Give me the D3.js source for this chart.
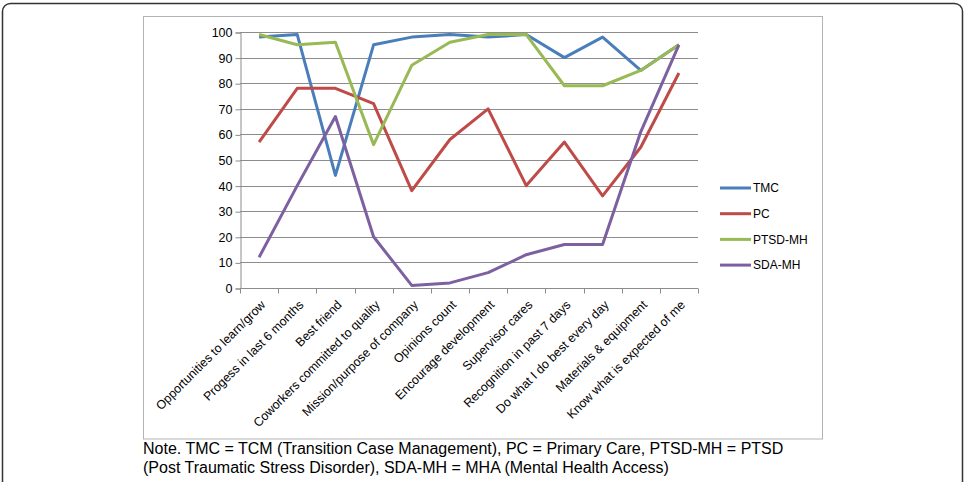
<!DOCTYPE html>
<html>
<head>
<meta charset="utf-8">
<script src="https://cdn.jsdelivr.net/npm/d3@7"></script>
<style>
  html, body { margin: 0; padding: 0; background: #fff; }
  svg { display: block; }
  .tick text { font-family: "Liberation Sans", Arial, sans-serif; }
</style>
</head>
<body>
<div class="svgContainer"></div>
<script>
const categories = [
  'Opportunities to learn/grow',
  'Progess in last 6 months',
  'Best friend',
  'Coworkers committed to quality',
  'Mission/purpose of company',
  'Opinions count',
  'Encourage development',
  'Supervisor cares',
  'Recognition in past 7 days',
  'Do what I do best every day',
  'Materials & equipment',
  'Know what is expected of me'
];
const seriesNames = ['TMC', 'PC', 'PTSD-MH', 'SDA-MH'];
const tmc = [98, 99, 44, 95, 98, 99, 98, 99, 90, 98, 85, 95];
const pc = [57, 78, 78, 72, 38, 58, 70, 40, 57, 36, 55, 84];
const ptsd = [99, 95, 96, 56, 87, 96, 99, 99, 79, 79, 85, 95];
const sda = [12, 40, 67, 20, 1, 2, 6, 13, 17, 17, 61, 95];
const yTicks = [0, 10, 20, 30, 40, 50, 60, 70, 80, 90, 100];
const noteLines = [
  'Note. TMC = TCM (Transition Case Management), PC = Primary Care, PTSD-MH = PTSD',
  '(Post Traumatic Stress Disorder), SDA-MH = MHA (Mental Health Access)'
];

const colors = ['#4a7ebb', '#be4b48', '#98b954', '#7d60a0'];
const values = [tmc, pc, ptsd, sda];

let width = 965,
    height = 482;

let svg = d3.select('.svgContainer')
    .append('svg')
    .attr('width', width)
    .attr('height', height);

// outer frame (bottom runs off the page)
svg.append('rect')
    .attr('x', 2.5).attr('y', 3.5)
    .attr('width', 960).attr('height', 500)
    .attr('rx', 8)
    .attr('fill', 'none')
    .attr('stroke', '#333')
    .attr('stroke-width', 1.5);

// chart box
svg.append('rect')
    .attr('x', 143.5).attr('y', 16.5)
    .attr('width', 679).attr('height', 422.5)
    .attr('fill', '#fff')
    .attr('stroke', '#b3b3b3');

const plot = { left: 240, right: 698, top: 32, bottom: 288 };

let x = d3.scaleBand()
    .domain(categories)
    .range([plot.left, plot.right]);

let y = d3.scaleLinear()
    .domain([0, 100])
    .range([plot.bottom, plot.top]);

// gridlines
svg.append('g')
    .selectAll('line')
    .data(yTicks.filter(d => d > 0))
    .enter().append('line')
    .attr('x1', plot.left).attr('x2', plot.right)
    .attr('y1', d => Math.round(y(d)) + 0.5)
    .attr('y2', d => Math.round(y(d)) + 0.5)
    .attr('stroke', '#8c8c8c')
    .attr('stroke-width', 1);

// y axis
let yAxis = svg.append('g')
    .attr('transform', `translate(${plot.left + 0.5},0.5)`)
    .call(d3.axisLeft(y).tickValues(yTicks).tickSize(5).tickPadding(3));
yAxis.select('.domain').attr('stroke', '#8c8c8c');
yAxis.selectAll('.tick line').attr('stroke', '#8c8c8c');
yAxis.selectAll('.tick text')
    .attr('font-size', 12.5)
    .attr('fill', '#000');

// x axis: ticks at category boundaries
let xAxis = svg.append('g')
    .attr('transform', `translate(0,${plot.bottom + 0.5})`);
xAxis.append('line')
    .attr('x1', plot.left).attr('x2', plot.right)
    .attr('stroke', '#8c8c8c');
xAxis.selectAll('.bound')
    .data(categories.concat(['end']))
    .enter().append('line')
    .attr('class', 'bound')
    .attr('x1', (d, i) => Math.round(plot.left + i * x.step()) + 0.5)
    .attr('x2', (d, i) => Math.round(plot.left + i * x.step()) + 0.5)
    .attr('y1', 0).attr('y2', 5)
    .attr('stroke', '#8c8c8c');
xAxis.selectAll('text')
    .data(categories)
    .enter().append('text')
    .attr('transform', d => `translate(${x(d) + x.bandwidth() / 2 + 4},14) rotate(-45)`)
    .attr('text-anchor', 'end')
    .attr('dy', '0.35em')
    .attr('font-family', '"Liberation Sans", Arial, sans-serif')
    .attr('font-size', 12.4)
    .attr('fill', '#000')
    .text(d => d);

// lines
let line = d3.line()
    .x((d, i) => x(categories[i]) + x.bandwidth() / 2)
    .y(d => y(d));

svg.append('g')
    .selectAll('path')
    .data(values)
    .enter().append('path')
    .attr('d', d => line(d))
    .attr('fill', 'none')
    .attr('stroke', (d, i) => colors[i])
    .attr('stroke-width', 3)
    .attr('stroke-linejoin', 'round');

// legend
let legend = svg.append('g')
    .selectAll('g')
    .data(seriesNames)
    .enter().append('g')
    .attr('transform', (d, i) => `translate(720,${188 + i * 25.7})`);
legend.append('line')
    .attr('x1', 0).attr('x2', 31)
    .attr('stroke', (d, i) => colors[i])
    .attr('stroke-width', 3);
legend.append('text')
    .attr('x', 33)
    .attr('dy', '0.35em')
    .attr('font-family', '"Liberation Sans", Arial, sans-serif')
    .attr('font-size', 12)
    .text(d => d);

// note under the chart
svg.append('g')
    .selectAll('text')
    .data(noteLines)
    .enter().append('text')
    .attr('x', 143)
    .attr('y', (d, i) => 454 + i * 19)
    .attr('font-family', '"Liberation Sans", Arial, sans-serif')
    .attr('font-size', 16)
    .attr('fill', '#000')
    .text(d => d);
</script>
</body>
</html>
